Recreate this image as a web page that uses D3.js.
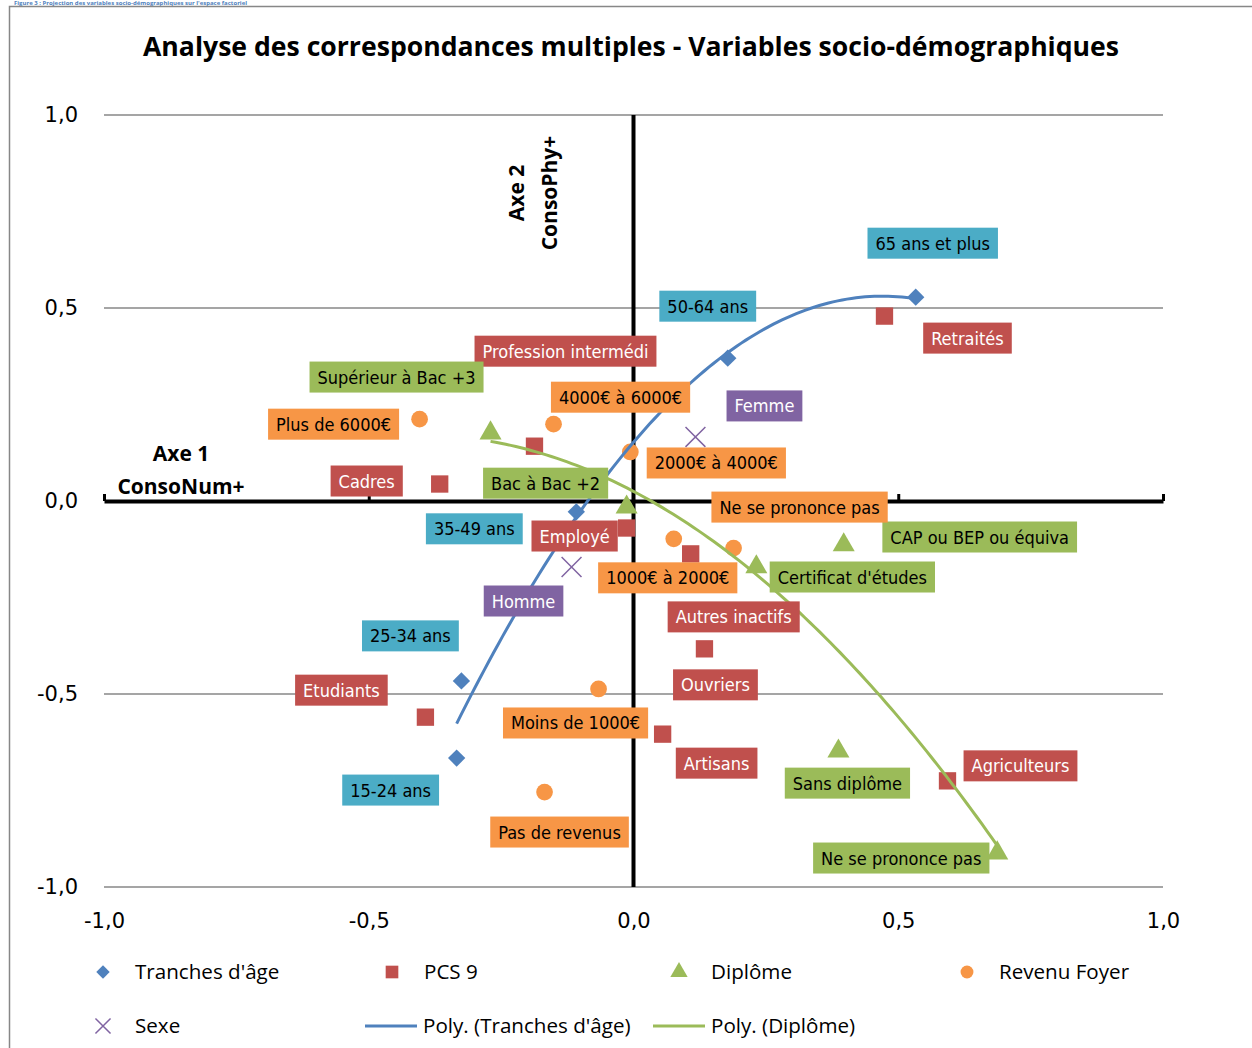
<!DOCTYPE html>
<html>
<head>
<meta charset="utf-8">
<script src="https://cdn.jsdelivr.net/npm/d3@7"></script>
<style>
  html, body { margin: 0; padding: 0; background: #fff; }
  svg { display: block; }
</style>
</head>
<body>
<script>
// ---- data (coordinates on factorial axes 1 and 2) ----
const AGE = [
    {name: '65 ans et plus', x: 0.533, y: 0.528},
    {name: '50-64 ans', x: 0.178, y: 0.370},
    {name: '35-49 ans', x: -0.108, y: -0.028},
    {name: '25-34 ans', x: -0.325, y: -0.466},
    {name: '15-24 ans', x: -0.334, y: -0.666}
];
const PCS = [
    {name: 'Retraités', x: 0.474, y: 0.479},
    {name: 'Profession intermédi', x: -0.187, y: 0.142},
    {name: 'Cadres', x: -0.366, y: 0.044},
    {name: 'Employé', x: -0.013, y: -0.070},
    {name: 'Autres inactifs', x: 0.108, y: -0.137},
    {name: 'Ouvriers', x: 0.134, y: -0.383},
    {name: 'Etudiants', x: -0.393, y: -0.560},
    {name: 'Artisans', x: 0.055, y: -0.604},
    {name: 'Agriculteurs', x: 0.593, y: -0.725}
];
const DIPLOME = [
    {name: 'Supérieur à Bac +3', x: -0.270, y: 0.176},
    {name: 'Bac à Bac +2', x: -0.013, y: -0.016},
    {name: 'CAP ou BEP ou équiva', x: 0.397, y: -0.114},
    {name: 'Certificat d\'études', x: 0.232, y: -0.171},
    {name: 'Sans diplôme', x: 0.387, y: -0.648},
    {name: 'Ne se prononce pas', x: 0.687, y: -0.912}
];
const REVENU = [
    {name: 'Plus de 6000€', x: -0.404, y: 0.212},
    {name: '4000€ à 6000€', x: -0.151, y: 0.199},
    {name: '2000€ à 4000€', x: -0.006, y: 0.127},
    {name: 'Ne se prononce pas', x: 0.189, y: -0.122},
    {name: '1000€ à 2000€', x: 0.076, y: -0.098},
    {name: 'Moins de 1000€', x: -0.066, y: -0.487},
    {name: 'Pas de revenus', x: -0.168, y: -0.754}
];
const SEXE = [
    {name: 'Femme', x: 0.117, y: 0.166},
    {name: 'Homme', x: -0.117, y: -0.171}
];
const TICKS = [-1, -0.5, 0, 0.5, 1];

// label box offsets from the marker, in px (same order as data arrays)
const LABEL_OFFSETS = {
    age: [[17, -54], [-20, -52], [-102, 17], [-51, -45], [-66, 32]],
    pcs: [[83, 22], [31, -95], [-73, -3], [-52, 8], [43, 63], [11, 36], [-84, -27], [54, 29], [73, -15]],
    dip: [[-94, -56], [-81, -24], [136, -8], [96, 10], [9, 32], [-96, 5]],
    rev: [[-86, 5], [67, -27], [86, 11], [66, -41], [-6, 39], [-23, 34], [15, 40]],
    sexe: [[69, -31], [-48, 34]]
};

const COLORS = {blue: '#4f81bd', red: '#c0504d', green: '#9bbb59', orange: '#f79646', purple: '#8064a2', teal: '#4bacc6'};
const DIM = {W: 1252, H: 1048};
const PLOT = {LEFT: 104, RIGHT: 1163, TOP: 115, BOTTOM: 887};
const FONT = '"Open Sans", Lato, sans-serif';
const TICK_FONT = '"DejaVu Sans", sans-serif';
const LABEL_FONT = '"DejaVu Sans Condensed", "DejaVu Sans", sans-serif';

const fmt = d => (d < 0 ? '-' : '') + Math.abs(d).toFixed(1).replace('.', ',');

// least squares polynomial of order 2 (Excel "Poly." trendline)
function polyfit2(pts) {
    let s = [0, 0, 0, 0, 0], t = [0, 0, 0];
    pts.forEach(p => {
        for (let k = 0; k < 5; k++) s[k] += Math.pow(p.x, k);
        for (let k = 0; k < 3; k++) t[k] += p.y * Math.pow(p.x, k);
    });
    const A = [[s[0], s[1], s[2], t[0]], [s[1], s[2], s[3], t[1]], [s[2], s[3], s[4], t[2]]];
    for (let i = 0; i < 3; i++) {
        for (let j = i + 1; j < 3; j++) {
            const f = A[j][i] / A[i][i];
            for (let k = i; k < 4; k++) A[j][k] -= f * A[i][k];
        }
    }
    const c = [0, 0, 0];
    for (let i = 2; i >= 0; i--) {
        let v = A[i][3];
        for (let k = i + 1; k < 3; k++) v -= A[i][k] * c[k];
        c[i] = v / A[i][i];
    }
    return x => c[0] + c[1] * x + c[2] * x * x;
}

const svg = d3.select('body').append('svg')
    .attr('width', DIM.W)
    .attr('height', DIM.H);

// caption above the frame (mostly cut off in the original)
svg.append('text')
    .attr('x', 14)
    .attr('y', 5)
    .attr('fill', COLORS.blue)
    .style('font', 'bold 6px ' + FONT)
    .text('Figure 3 : Projection des variables socio-démographiques sur l\'espace factoriel');

// chart frame
svg.append('rect')
    .attr('x', 9.5).attr('y', 6.5)
    .attr('width', 1260).attr('height', 1060)
    .attr('fill', 'none')
    .attr('stroke', '#878787')
    .attr('stroke-width', 1.5);

// title
svg.append('text')
    .attr('x', 631).attr('y', 56)
    .attr('text-anchor', 'middle')
    .style('font', 'bold 26.6px ' + FONT)
    .text('Analyse des correspondances multiples - Variables socio-démographiques');

const x = d3.scaleLinear().domain([-1, 1]).range([PLOT.LEFT, PLOT.RIGHT]);
const y = d3.scaleLinear().domain([-1, 1]).range([PLOT.BOTTOM, PLOT.TOP]);

// gridlines
svg.append('g').selectAll('line')
    .data(TICKS.filter(d => d !== 0))
    .enter().append('line')
    .attr('x1', PLOT.LEFT).attr('x2', PLOT.RIGHT)
    .attr('y1', d => y(d)).attr('y2', d => y(d))
    .attr('stroke', '#878787')
    .attr('stroke-width', 1.5);

// tick labels
const yAxis = svg.append('g')
    .attr('transform', 'translate(' + PLOT.LEFT + ',0)')
    .call(d3.axisLeft(y).tickValues(TICKS).tickFormat(fmt).tickSize(0).tickPadding(26));
const xAxis = svg.append('g')
    .attr('transform', 'translate(0,' + PLOT.BOTTOM + ')')
    .call(d3.axisBottom(x).tickValues(TICKS).tickFormat(fmt).tickSize(0).tickPadding(26));
[yAxis, xAxis].forEach(a => {
    a.select('.domain').remove();
    a.selectAll('text').style('font', '21px ' + TICK_FONT).attr('fill', '#000');
});

// zero axes
const zeroX = svg.append('g')
    .attr('transform', 'translate(0,' + y(0) + ')')
    .call(d3.axisTop(x).tickValues([-1, -0.5, 0.5, 1]).tickFormat('').tickSizeInner(7).tickSizeOuter(0));
zeroX.select('.domain').attr('stroke', '#000').attr('stroke-width', 4);
zeroX.selectAll('.tick line').attr('stroke', '#000').attr('stroke-width', 3);

svg.append('line')
    .attr('x1', x(0)).attr('x2', x(0))
    .attr('y1', y(1)).attr('y2', y(-1))
    .attr('stroke', '#000')
    .attr('stroke-width', 4);

// axis titles
const axisTitle = (lines, tx, ty, rot) => {
    const g = svg.append('g').attr('transform', 'translate(' + tx + ',' + ty + ') rotate(' + rot + ')');
    lines.forEach((l, i) => {
        g.append('text')
            .attr('x', 0).attr('y', i * 33)
            .attr('text-anchor', 'middle')
            .style('font', 'bold 21px ' + FONT)
            .text(l);
    });
};
axisTitle(['Axe 1', 'ConsoNum+'], 181, 461, 0);
axisTitle(['Axe 2', 'ConsoPhy+'], 524, 193, -90);

// marker symbols
const shapes = {
    diamond: d3.symbol().type(d3.symbolSquare).size(150)(),
    square: d3.symbol().type(d3.symbolSquare).size(300)(),
    triangle: d3.symbol().type(d3.symbolTriangle).size(210)(),
    circle: d3.symbol().type(d3.symbolCircle).size(220)(),
    cross: d3.symbol().type(d3.symbolX).size(260)()
};

const SERIES = [
    {key: 'age', data: AGE, shape: 'diamond', color: COLORS.blue, box: COLORS.teal, text: '#000', rot: 45},
    {key: 'pcs', data: PCS, shape: 'square', color: COLORS.red, box: COLORS.red, text: '#fff', rot: 0},
    {key: 'dip', data: DIPLOME, shape: 'triangle', color: COLORS.green, box: COLORS.green, text: '#000', rot: 0},
    {key: 'rev', data: REVENU, shape: 'circle', color: COLORS.orange, box: COLORS.orange, text: '#000', rot: 0},
    {key: 'sexe', data: SEXE, shape: 'cross', color: COLORS.purple, box: COLORS.purple, text: '#fff', rot: 0}
];

const markers = svg.append('g').attr('class', 'markers');
SERIES.forEach(s => {
    markers.append('g').selectAll('path')
        .data(s.data)
        .enter().append('path')
        .attr('d', shapes[s.shape])
        .attr('transform', d => 'translate(' + x(d.x) + ',' + y(d.y) + ') rotate(' + s.rot + ')')
        .attr('fill', s.shape === 'cross' ? 'none' : s.color)
        .attr('stroke', s.shape === 'cross' ? s.color : 'none')
        .attr('stroke-width', 1.5);
});

// trendlines
const trend = (data, color) => {
    const f = polyfit2(data);
    const ext = d3.extent(data, d => d.x);
    const xs = d3.range(0, 101).map(i => ext[0] + (ext[1] - ext[0]) * i / 100);
    svg.append('path')
        .datum(xs)
        .attr('d', d3.line().x(d => x(d)).y(d => y(f(d))))
        .attr('fill', 'none')
        .attr('stroke', color)
        .attr('stroke-width', 3);
};
trend(AGE, COLORS.blue);
trend(DIPLOME, COLORS.green);

// labels
const labels = svg.append('g').attr('class', 'labels');
SERIES.forEach(s => {
    s.data.forEach((d, i) => {
        const off = LABEL_OFFSETS[s.key][i];
        const cx = x(d.x) + off[0], cy = y(d.y) + off[1];
        const g = labels.append('g');
        const rect = g.append('rect').attr('fill', s.box);
        const t = g.append('text')
            .attr('x', cx).attr('y', cy + 6.5)
            .attr('text-anchor', 'middle')
            .attr('fill', s.text)
            .style('font', '18px ' + LABEL_FONT)
            .text(d.name);
        const w = t.node().getComputedTextLength() + 16;
        rect.attr('x', cx - w / 2).attr('y', cy - 15.5).attr('width', w).attr('height', 31);
    });
});

// legend
const LEGEND = [
    {label: 'Tranches d\'âge', shape: 'diamond', color: COLORS.blue, x: 103, y: 972},
    {label: 'PCS 9', shape: 'square', color: COLORS.red, x: 392, y: 972},
    {label: 'Diplôme', shape: 'triangle', color: COLORS.green, x: 679, y: 972},
    {label: 'Revenu Foyer', shape: 'circle', color: COLORS.orange, x: 967, y: 972},
    {label: 'Sexe', shape: 'cross', color: COLORS.purple, x: 103, y: 1026},
    {label: 'Poly. (Tranches d\'âge)', line: true, color: COLORS.blue, x: 391, y: 1026},
    {label: 'Poly. (Diplôme)', line: true, color: COLORS.green, x: 679, y: 1026}
];
const legend = svg.append('g').attr('id', 'legend');
LEGEND.forEach(l => {
    if (l.line) {
        legend.append('line')
            .attr('x1', l.x - 26).attr('x2', l.x + 26)
            .attr('y1', l.y).attr('y2', l.y)
            .attr('stroke', l.color).attr('stroke-width', 3);
    } else {
        const small = {diamond: 90, square: 160, triangle: 130, circle: 130, cross: 150};
        legend.append('path')
            .attr('d', d3.symbol().type({diamond: d3.symbolSquare, square: d3.symbolSquare, triangle: d3.symbolTriangle,
                circle: d3.symbolCircle, cross: d3.symbolX}[l.shape]).size(small[l.shape])())
            .attr('transform', 'translate(' + l.x + ',' + l.y + ') rotate(' + (l.shape === 'diamond' ? 45 : 0) + ')')
            .attr('fill', l.shape === 'cross' ? 'none' : l.color)
            .attr('stroke', l.shape === 'cross' ? l.color : 'none')
            .attr('stroke-width', 1.5);
    }
    legend.append('text')
        .attr('x', l.x + 32)
        .attr('y', l.y + 7)
        .style('font', '20.6px ' + FONT)
        .text(l.label);
});
</script>
</body>
</html>
